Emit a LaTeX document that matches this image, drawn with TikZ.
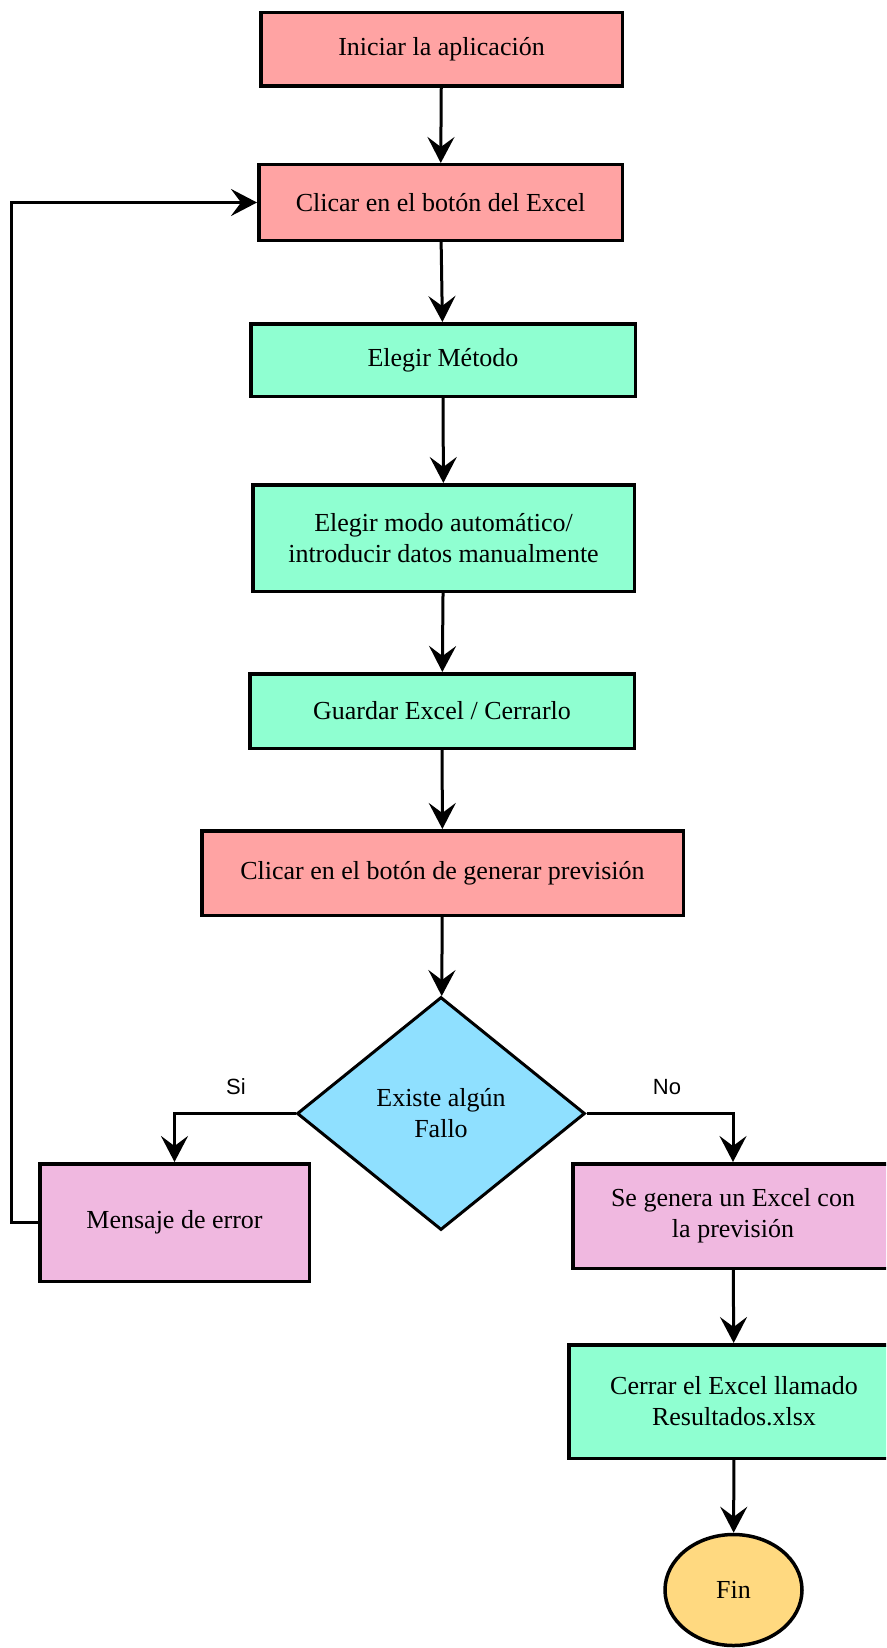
\documentclass[tikz,border=0pt]{standalone}
\usepackage{fontspec}
\setmainfont{Liberation Serif}
\newfontfamily\labelfont{Liberation Sans}
\usetikzlibrary{shapes.geometric,arrows.meta}
\definecolor{salmonb}{RGB}{255,163,163}
\definecolor{mintb}{RGB}{143,255,209}
\definecolor{skyb}{RGB}{143,224,255}
\definecolor{pinkb}{RGB}{240,184,224}
\definecolor{yellowb}{RGB}{255,217,128}
\begin{document}
\begin{tikzpicture}[x=1pt,y=-1pt,
  box/.style={draw=black, line width=3.5pt, rectangle, align=center,
    font=\fontsize{26}{31}\selectfont, inner sep=0pt},
  arr/.style={-{Stealth[length=26pt,width=27pt,inset=10pt]}, line width=3pt},
  lbl/.style={font=\labelfont\fontsize{22}{26}\selectfont}]
\useasboundingbox (0,0) rectangle (886,1648);
\fill[white] (0,0) rectangle (886,1648);
\clip (0,0) rectangle (886,1648);

\node[box, fill=salmonb, minimum width=361.5pt, minimum height=73.5pt] (b1) at (441.5,49.5) {Iniciar la aplicación};
\node[box, fill=salmonb, minimum width=363.5pt, minimum height=75.5pt] (b2) at (440.5,202.5) {Clicar en el botón del Excel};
\node[box, fill=mintb, minimum width=384.5pt, minimum height=72.5pt] (b3) at (443,360) {Elegir Método};
\node[box, fill=mintb, minimum width=381.5pt, minimum height=106.5pt] (b4) at (443.5,538) {Elegir modo automático/\\introducir datos manualmente};
\node[box, fill=mintb, minimum width=384.5pt, minimum height=74.5pt] (b5) at (442,711) {Guardar Excel / Cerrarlo};
\node[box, fill=salmonb, minimum width=481.5pt, minimum height=84.5pt] (b6) at (442.5,873) {Clicar en el botón de generar previsión};
\node[box, diamond, fill=skyb, line width=3pt, minimum width=288pt, minimum height=233pt, aspect=1.23] (dia) at (441,1113.5) {Existe algún\\Fallo};
\node[box, fill=pinkb, minimum width=269.5pt, minimum height=117.5pt] (msg) at (174.5,1222.5) {Mensaje de error};
\node[box, fill=pinkb, minimum width=320.5pt, minimum height=104.5pt] (gen) at (733,1216) {Se genera un Excel con\\la previsión};
\node[box, fill=mintb, minimum width=330.5pt, minimum height=113.5pt] (cer) at (734,1401.5) {Cerrar el Excel llamado\\Resultados.xlsx};
\node[box, ellipse, fill=yellowb, minimum width=137pt, minimum height=111pt] (fin) at (733.5,1590) {Fin};

\node[lbl] (si) at (236,1087) {Si};
\node[lbl] (no) at (667,1087) {No};

\coordinate (loopx) at (11,0);

\draw[arr] (b1) -- (b2);
\draw[arr] (b2) -- (b3);
\draw[arr] (b3) -- (b4);
\draw[arr] (b4) -- (b5);
\draw[arr] (b5) -- (b6);
\draw[arr] (b6) -- (dia);
\draw[arr] (dia.west) -| (msg.north);
\draw[arr] (dia.east) -| (gen.north);
\draw[arr] (gen) -- (cer);
\draw[arr] (cer) -- (fin);
\draw[arr] (msg.west) -- (msg.west -| loopx) |- (b2.west);
\end{tikzpicture}
\end{document}
